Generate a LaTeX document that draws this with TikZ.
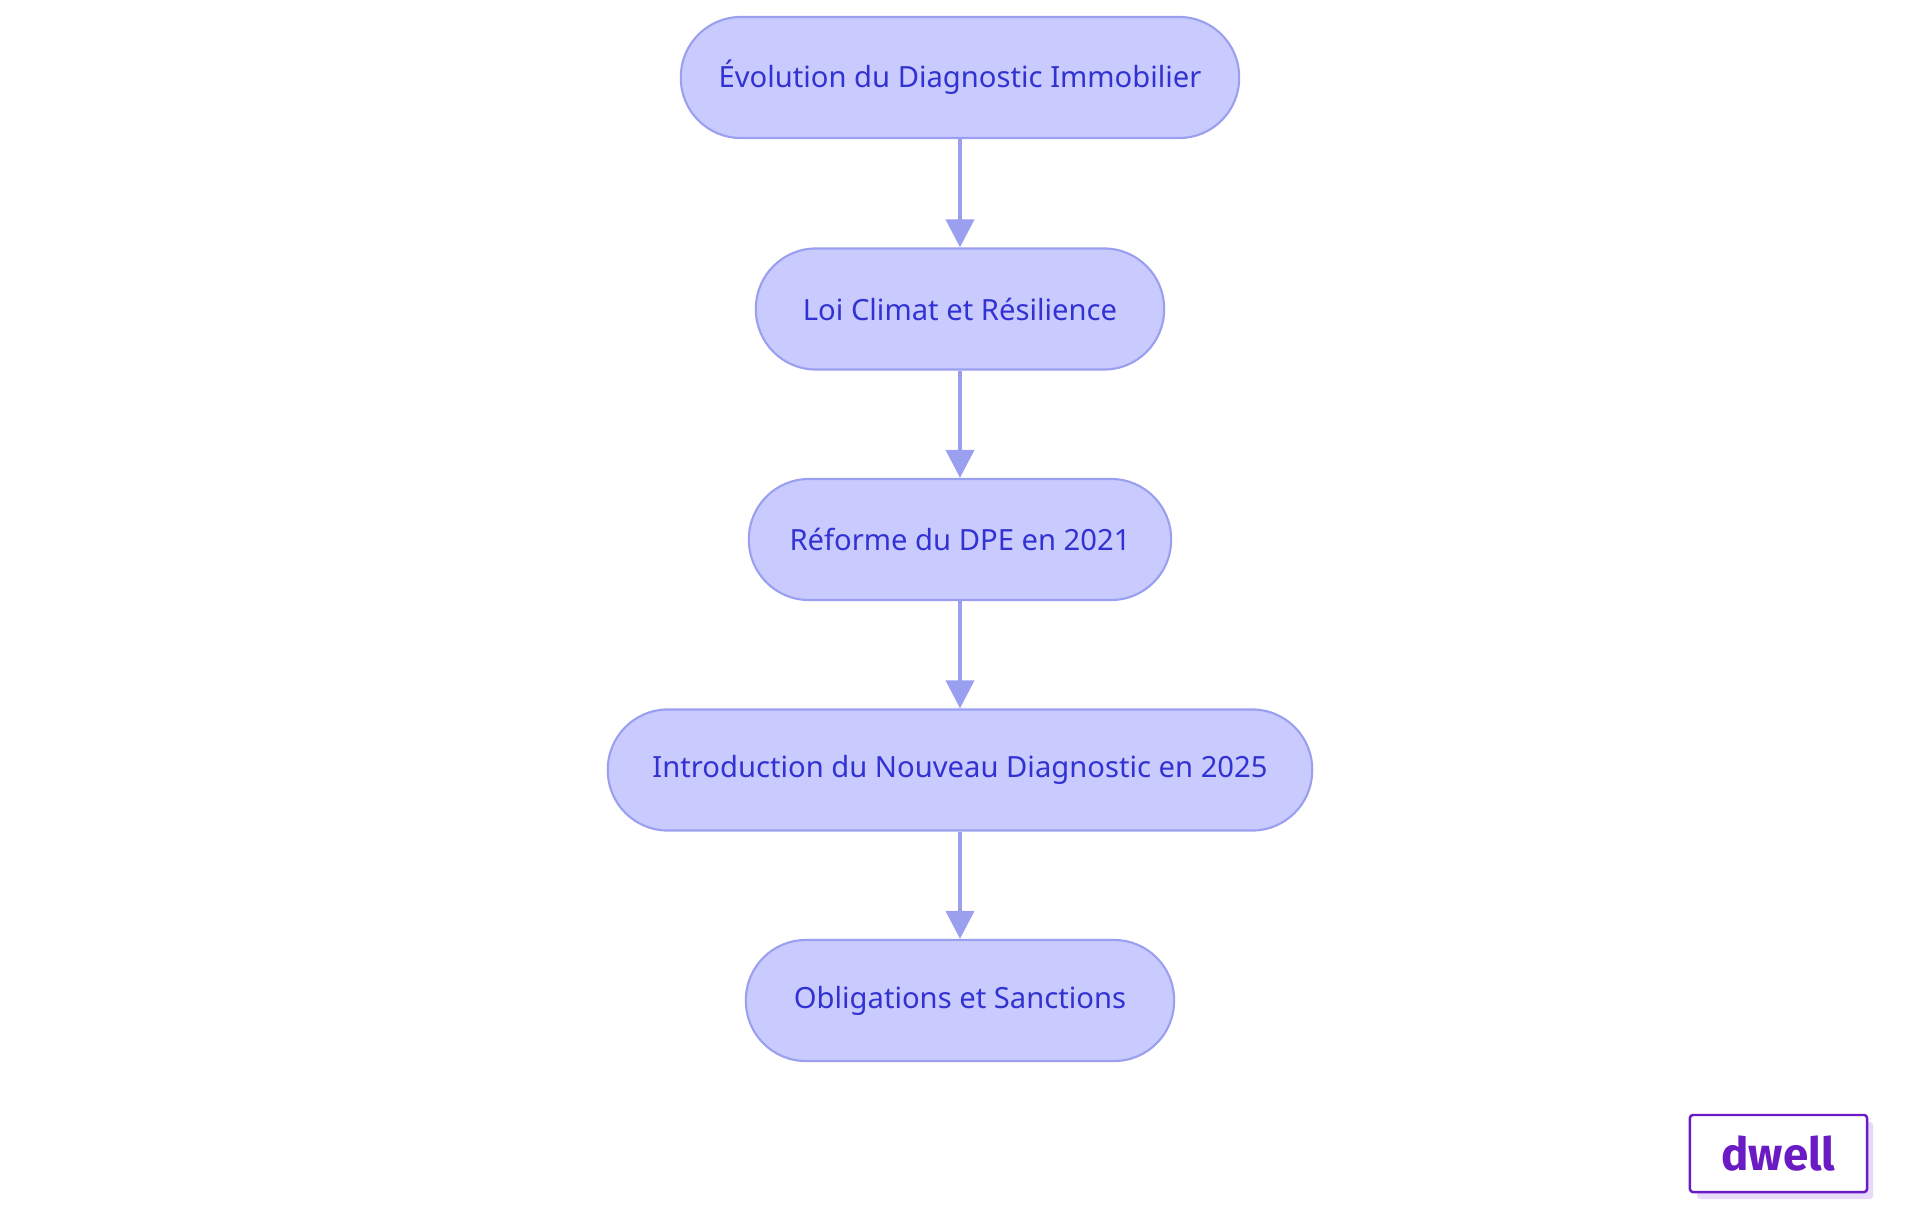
\documentclass[tikz,border=0pt]{standalone}
\usepackage{fontspec}
\setmainfont{Noto Sans}
\newfontfamily\logofont{Fira Sans}
\usetikzlibrary{positioning,arrows.meta}
\definecolor{boxfill}{HTML}{C9CBFE}
\definecolor{boxline}{HTML}{9A9FF0}
\definecolor{boxtext}{HTML}{3232D2}
\definecolor{brand}{HTML}{6A1BC4}
\definecolor{brandshade}{HTML}{E6DAF8}
\tikzset{
  stage/.style={draw=boxline, fill=boxfill, text=boxtext, rounded corners=0.6cm,
    minimum height=1.21cm, line width=0.6pt, font=\fontsize{8.3}{10}\selectfont},
  link/.style={draw=boxline, line width=1.1pt, -{Triangle[length=0.28cm,width=0.28cm]}}
}
\begin{document}
\begin{tikzpicture}[x=0.01cm,y=-0.01cm]
\useasboundingbox (0,0) rectangle (1920,1215);
\node[stage, minimum width=5.58cm] (evol) at (960,77.5) {Évolution du Diagnostic Immobilier};
\node[stage, minimum width=4.08cm] (loi) at (960,309) {Loi Climat et Résilience};
\node[stage, minimum width=4.22cm] (dpe) at (960,539.5) {Réforme du DPE en 2021};
\node[stage, minimum width=7.04cm] (intro) at (960,770) {Introduction du Nouveau Diagnostic en 2025};
\node[stage, minimum width=4.28cm] (oblig) at (960,1000.5) {Obligations et Sanctions};
\draw[link] (evol) -- (loi);
\draw[link] (loi) -- (dpe);
\draw[link] (dpe) -- (intro);
\draw[link] (intro) -- (oblig);
% logo
\fill[brandshade, rounded corners=0.03cm] (1697,1122) rectangle (1873,1199);
\node[draw=brand, fill=white, line width=0.7pt, rounded corners=0.03cm, minimum width=1.77cm,
  minimum height=0.77cm, text=brand, font=\logofont\bfseries\fontsize{13}{15}\selectfont] (logo) at (1778.5,1153.5) {dwell};
\end{tikzpicture}
\end{document}
